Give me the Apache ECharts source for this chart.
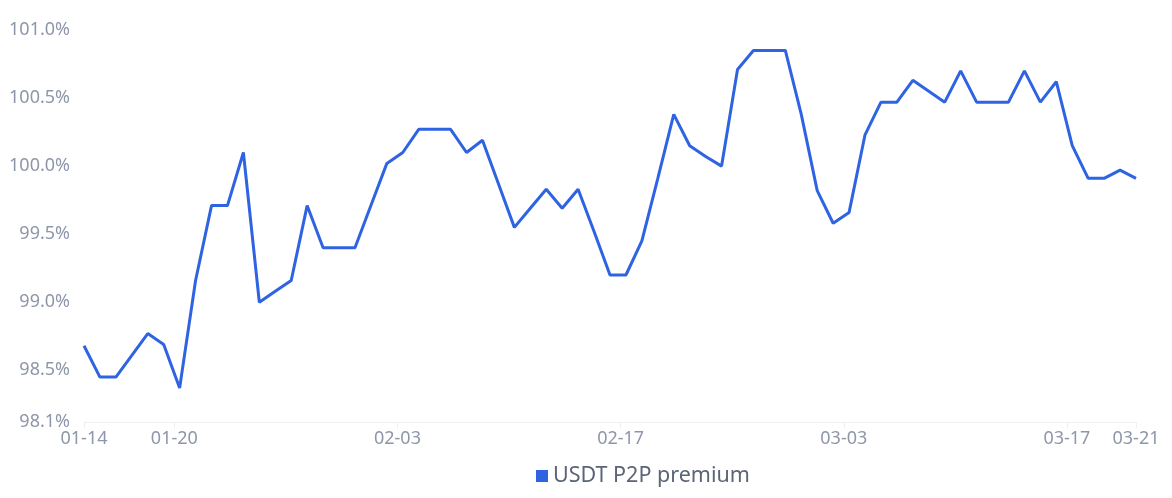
<!DOCTYPE html>
<html>
<head>
<meta charset="utf-8">
<script src="https://cdn.jsdelivr.net/npm/echarts@6/dist/echarts.min.js"></script>
<style>
html,body{margin:0;padding:0;background:#fff;}
#chart{width:1172px;height:498px;}
</style>
</head>
<body>
<div id="chart"></div>
<script>
// Observation dates (2023), each recorded at the same time of day
const dates = [
  '2023-01-14','2023-01-15','2023-01-16','2023-01-17','2023-01-18','2023-01-19','2023-01-20',
  '2023-01-21','2023-01-22','2023-01-23','2023-01-24','2023-01-25','2023-01-26','2023-01-27',
  '2023-01-28','2023-01-29','2023-01-30','2023-01-31','2023-02-01','2023-02-02','2023-02-03',
  '2023-02-04','2023-02-05','2023-02-06','2023-02-07','2023-02-08','2023-02-09','2023-02-10',
  '2023-02-11','2023-02-12','2023-02-13','2023-02-14','2023-02-15','2023-02-16','2023-02-17',
  '2023-02-18','2023-02-19','2023-02-20','2023-02-21','2023-02-22','2023-02-23','2023-02-24',
  '2023-02-25','2023-02-26','2023-02-27','2023-02-28','2023-03-01','2023-03-02','2023-03-03',
  '2023-03-04','2023-03-05','2023-03-06','2023-03-07','2023-03-08','2023-03-09','2023-03-10',
  '2023-03-11','2023-03-12','2023-03-13','2023-03-14','2023-03-15','2023-03-16','2023-03-17',
  '2023-03-18','2023-03-19','2023-03-20','2023-03-21'
];
const observationHour = 8;

// USDT P2P premium, percent
const premium = [
  98.68, 98.45, 98.45, 98.61, 98.77, 98.69, 98.37,
  99.16, 99.71, 99.71, 100.10, 99.00, 99.08, 99.16,
  99.71, 99.40, 99.40, 99.40, 99.71, 100.02, 100.10,
  100.27, 100.27, 100.27, 100.10, 100.19, 99.87, 99.55,
  99.69, 99.83, 99.69, 99.83, 99.52, 99.20, 99.20,
  99.45, 99.91, 100.38, 100.15, 100.07, 100.00, 100.71,
  100.85, 100.85, 100.85, 100.38, 99.82, 99.58, 99.66,
  100.23, 100.47, 100.47, 100.63, 100.55, 100.47, 100.70,
  100.47, 100.47, 100.47, 100.70, 100.47, 100.62, 100.15,
  99.91, 99.91, 99.97, 99.91
];

// x-axis tick dates (inner ones at midnight, ends at the first/last observation)
const xTickDates = ['2023-01-20', '2023-02-03', '2023-02-17', '2023-03-03', '2023-03-17'];

const yMin = 98.12;
const yMax = 101.0;

const seriesName = 'USDT P2P premium';

function toStamp(s, hour) {
  const p = s.split('-').map(Number);
  return new Date(p[0], p[1] - 1, p[2], hour || 0, 0, 0).getTime();
}
const stamps = dates.map(d => toStamp(d, observationHour));
const seriesData = stamps.map((t, i) => [t, premium[i]]);
const tickValues = [stamps[0]].concat(xTickDates.map(d => toStamp(d, 0)), [stamps[stamps.length - 1]]);

function pad(n) { return (n < 10 ? '0' : '') + n; }

const labelColor = '#8e96a9';
const fontFamily = '"Noto Sans", "Open Sans", sans-serif';

const chart = echarts.init(document.getElementById('chart'), null, { renderer: 'canvas' });
chart.setOption({
  animation: false,
  backgroundColor: '#ffffff',
  textStyle: { fontFamily: fontFamily },
  grid: {
    left: 84,
    right: 36,
    top: 30,
    bottom: 76,
    containLabel: false,
    outerBoundsMode: 'none'
  },
  legend: {
    data: [{ name: seriesName, icon: 'rect' }],
    top: 465,
    left: 536,
    padding: 0,
    itemWidth: 12,
    itemHeight: 12,
    itemGap: 10,
    textStyle: { fontSize: 21.5, color: '#5c6478', fontFamily: fontFamily }
  },
  xAxis: {
    type: 'value',
    min: stamps[0],
    max: stamps[stamps.length - 1],
    scale: true,
    axisLine: { show: true, lineStyle: { color: '#eeeff2', width: 1 } },
    axisTick: { show: true, length: 6, lineStyle: { color: '#eeeff2' }, customValues: tickValues },
    splitLine: { show: false },
    axisLabel: {
      customValues: tickValues,
      color: labelColor,
      fontSize: 18,
      margin: 8,
      hideOverlap: false,
      formatter: function (val) {
        const d = new Date(val);
        return pad(d.getMonth() + 1) + '-' + pad(d.getDate());
      }
    }
  },
  yAxis: {
    type: 'value',
    min: yMin,
    max: yMax,
    axisLine: { show: false },
    axisTick: { show: false },
    splitLine: { show: false },
    axisLabel: {
      color: labelColor,
      fontSize: 18,
      margin: 14,
      formatter: function (v) { return v.toFixed(1) + '%'; }
    }
  },
  series: [{
    name: seriesName,
    type: 'line',
    data: seriesData,
    showSymbol: false,
    symbol: 'none',
    color: '#2e63e2',
    lineStyle: { width: 3, color: '#2e63e2' }
  }]
});
</script>
</body>
</html>
